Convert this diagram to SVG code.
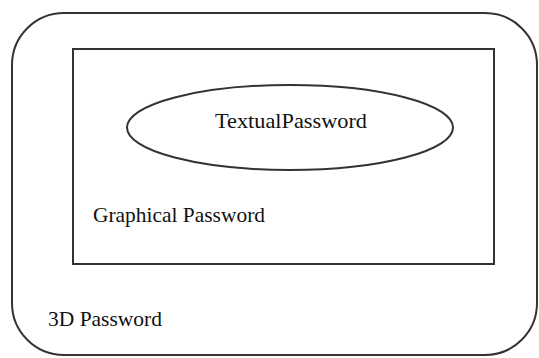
<svg xmlns="http://www.w3.org/2000/svg" width="539" height="358" viewBox="0 0 539 358">
<style>
.shape{fill:none;stroke:#333;stroke-width:2}
.lbl{font-family:"Liberation Serif","DejaVu Serif",serif;font-size:21px;fill:#111}
</style>
<rect x="0" y="0" width="539" height="358" fill="#fff"/>
<g id="outer">
<rect class="shape" x="12" y="13" width="525" height="342" rx="52" ry="52"/>
<text class="lbl" x="48" y="326" textLength="114" lengthAdjust="spacingAndGlyphs">3D Password</text>
</g>
<g id="graphical">
<rect class="shape" x="73" y="49" width="421" height="215"/>
<text class="lbl" x="93" y="222" textLength="172" lengthAdjust="spacingAndGlyphs">Graphical Password</text>
</g>
<g id="textual">
<ellipse class="shape" cx="290" cy="127.5" rx="163" ry="42.5"/>
<text class="lbl" x="215" y="128" textLength="152" lengthAdjust="spacingAndGlyphs">TextualPassword</text>
</g>
<g id="connectors"></g>
</svg>
